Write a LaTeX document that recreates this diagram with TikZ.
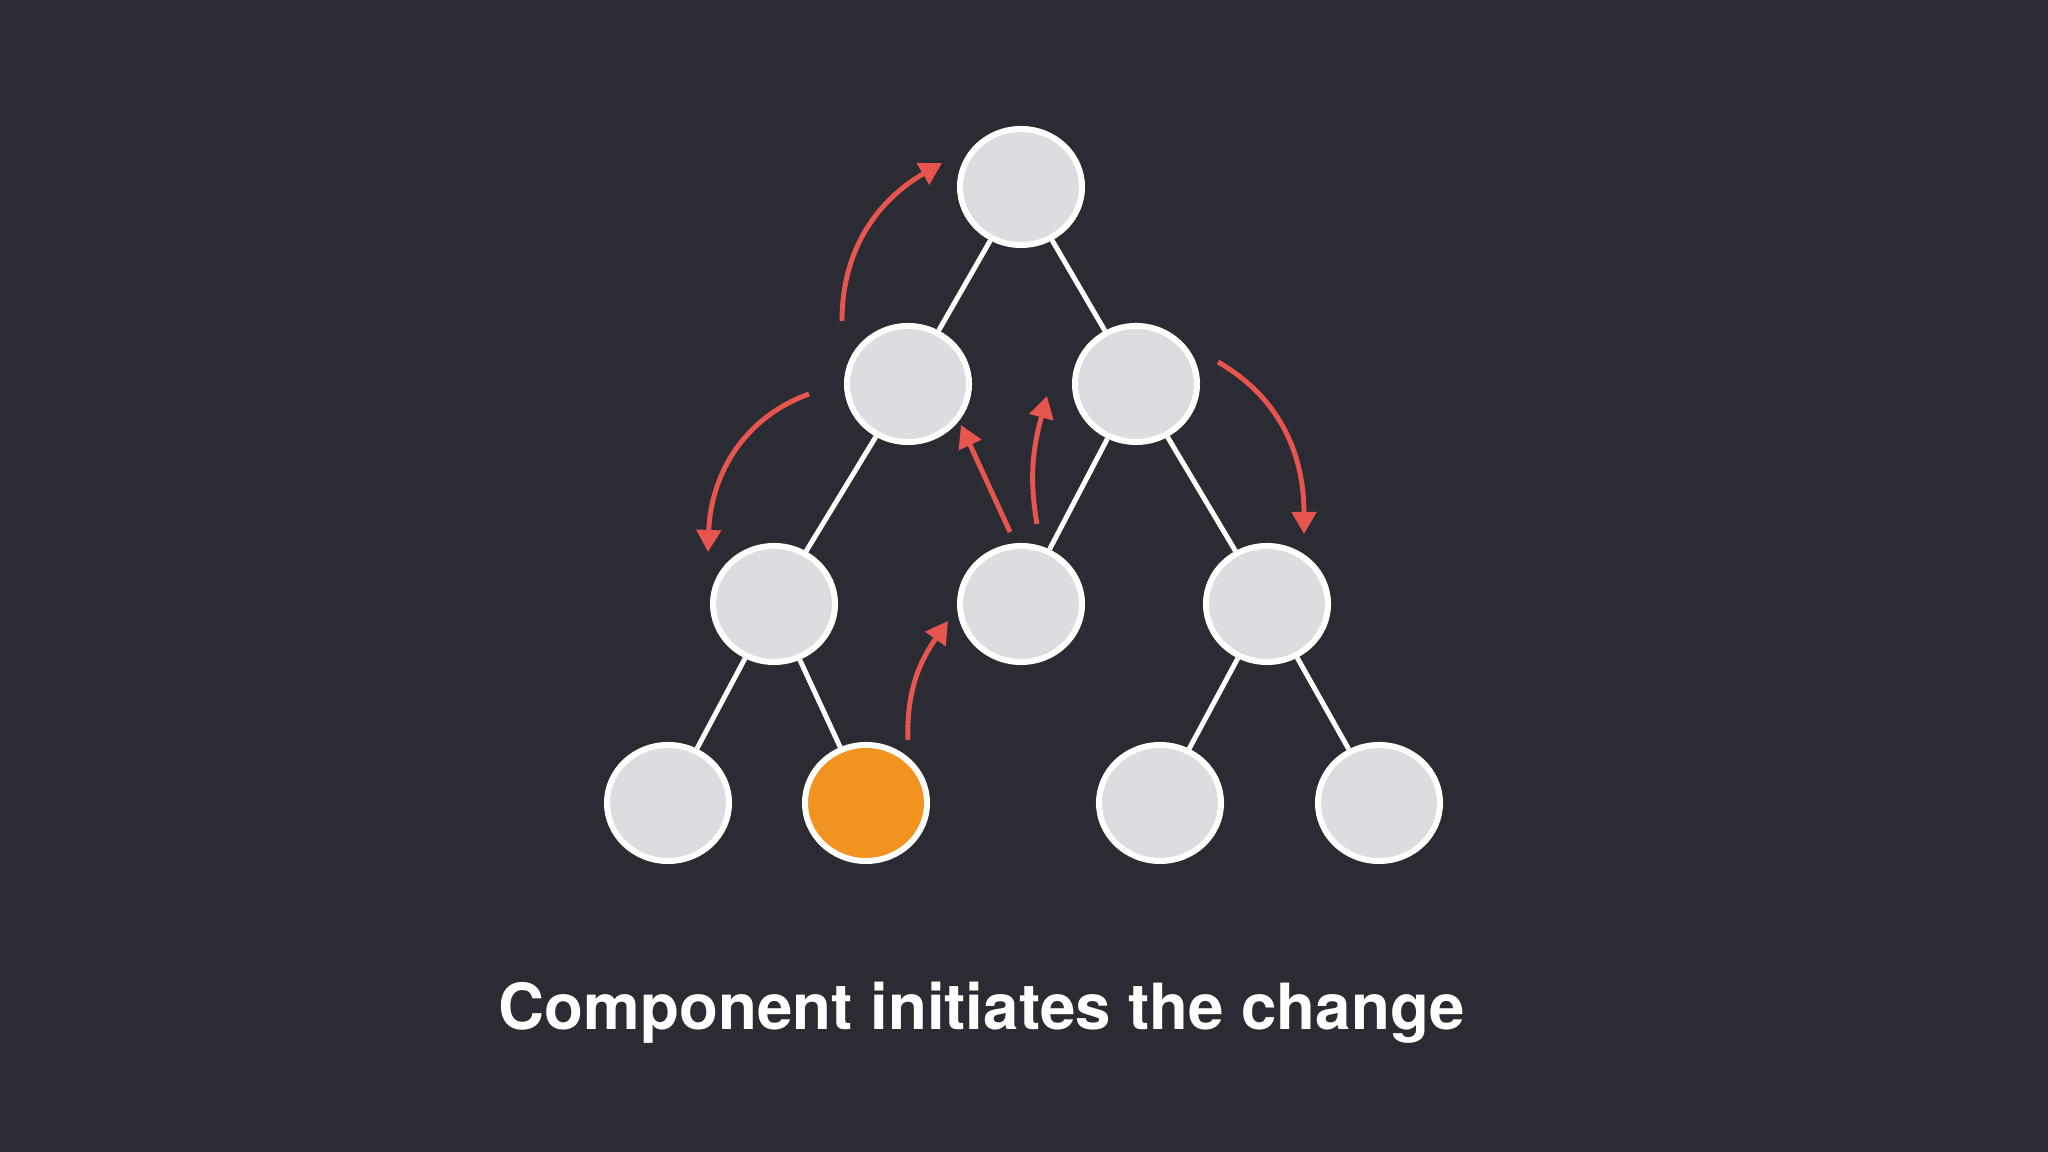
\documentclass[tikz,border=0pt]{standalone}
\usepackage{fontspec}
\newfontfamily\heros{TeX Gyre Heros}
\usetikzlibrary{shapes.geometric,arrows.meta}
\definecolor{bgdark}{HTML}{2B2C33}
\definecolor{nodegray}{HTML}{DCDDE0}
\definecolor{changeorange}{HTML}{F2931F}
\definecolor{arrowred}{HTML}{E8544E}
\begin{document}
\begin{tikzpicture}[
        x=0.01cm, y=0.01cm,
        comp/.style={draw=white,fill=nodegray,ellipse,line width=1.7pt,
            inner sep=0pt,minimum width=1.22cm,minimum height=1.16cm},
        origin/.style={comp,fill=changeorange},
        link/.style={draw=white,line width=1.4pt},
        signal/.style={draw=arrowred,line width=1.4pt,
            -{Triangle[length=0.22cm,width=0.24cm]}},
        ]
    \fill[bgdark] (0,0) rectangle (2048,1152);
    \useasboundingbox (0,0) rectangle (2048,1152);
    % tree
    \node (root) [comp] at (1021,965) {};
    \node (l1a) [comp] at (908,768) {};
    \node (l1b) [comp] at (1136,768) {};
    \node (l2a) [comp] at (774,548) {};
    \node (l2b) [comp] at (1021,548) {};
    \node (l2c) [comp] at (1267,548) {};
    \node (l3a) [comp] at (668,349) {};
    \node (l3b) [origin] at (866,349) {};
    \node (l3c) [comp] at (1160,349) {};
    \node (l3d) [comp] at (1379,349) {};
    \draw[link] (root) -- (l1a);
    \draw[link] (root) -- (l1b);
    \draw[link] (l1a) -- (l2a);
    \draw[link] (l1b) -- (l2b);
    \draw[link] (l1b) -- (l2c);
    \draw[link] (l2a) -- (l3a);
    \draw[link] (l2a) -- (l3b);
    \draw[link] (l2c) -- (l3c);
    \draw[link] (l2c) -- (l3d);
    % propagation
    \coordinate (s1) at (908,412);  \coordinate (e1) at (948,531);
    \coordinate (s2) at (1010,620); \coordinate (e2) at (961,727);
    \coordinate (s3) at (1037,628); \coordinate (e3) at (1047,756);
    \coordinate (s4) at (1218,790); \coordinate (e4) at (1304,618);
    \coordinate (s5) at (809,758);  \coordinate (e5) at (708,600);
    \coordinate (s6) at (842,831);  \coordinate (e6) at (942,989);
    \draw[signal] (s1) to[out=92,in=235] (e1);
    \draw[signal] (s2) -- (e2);
    \draw[signal] (s3) to[out=100,in=255] (e3);
    \draw[signal] (s4) to[out=-30,in=90] (e4);
    \draw[signal] (s5) to[out=200,in=88] (e5);
    \draw[signal] (s6) to[out=90,in=210] (e6);
    \node (caption) [anchor=base,text=white,font=\heros\bfseries\fontsize{18.1}{20}\selectfont]
        at (982,122) {Component initiates the change};
\end{tikzpicture}
\end{document}
